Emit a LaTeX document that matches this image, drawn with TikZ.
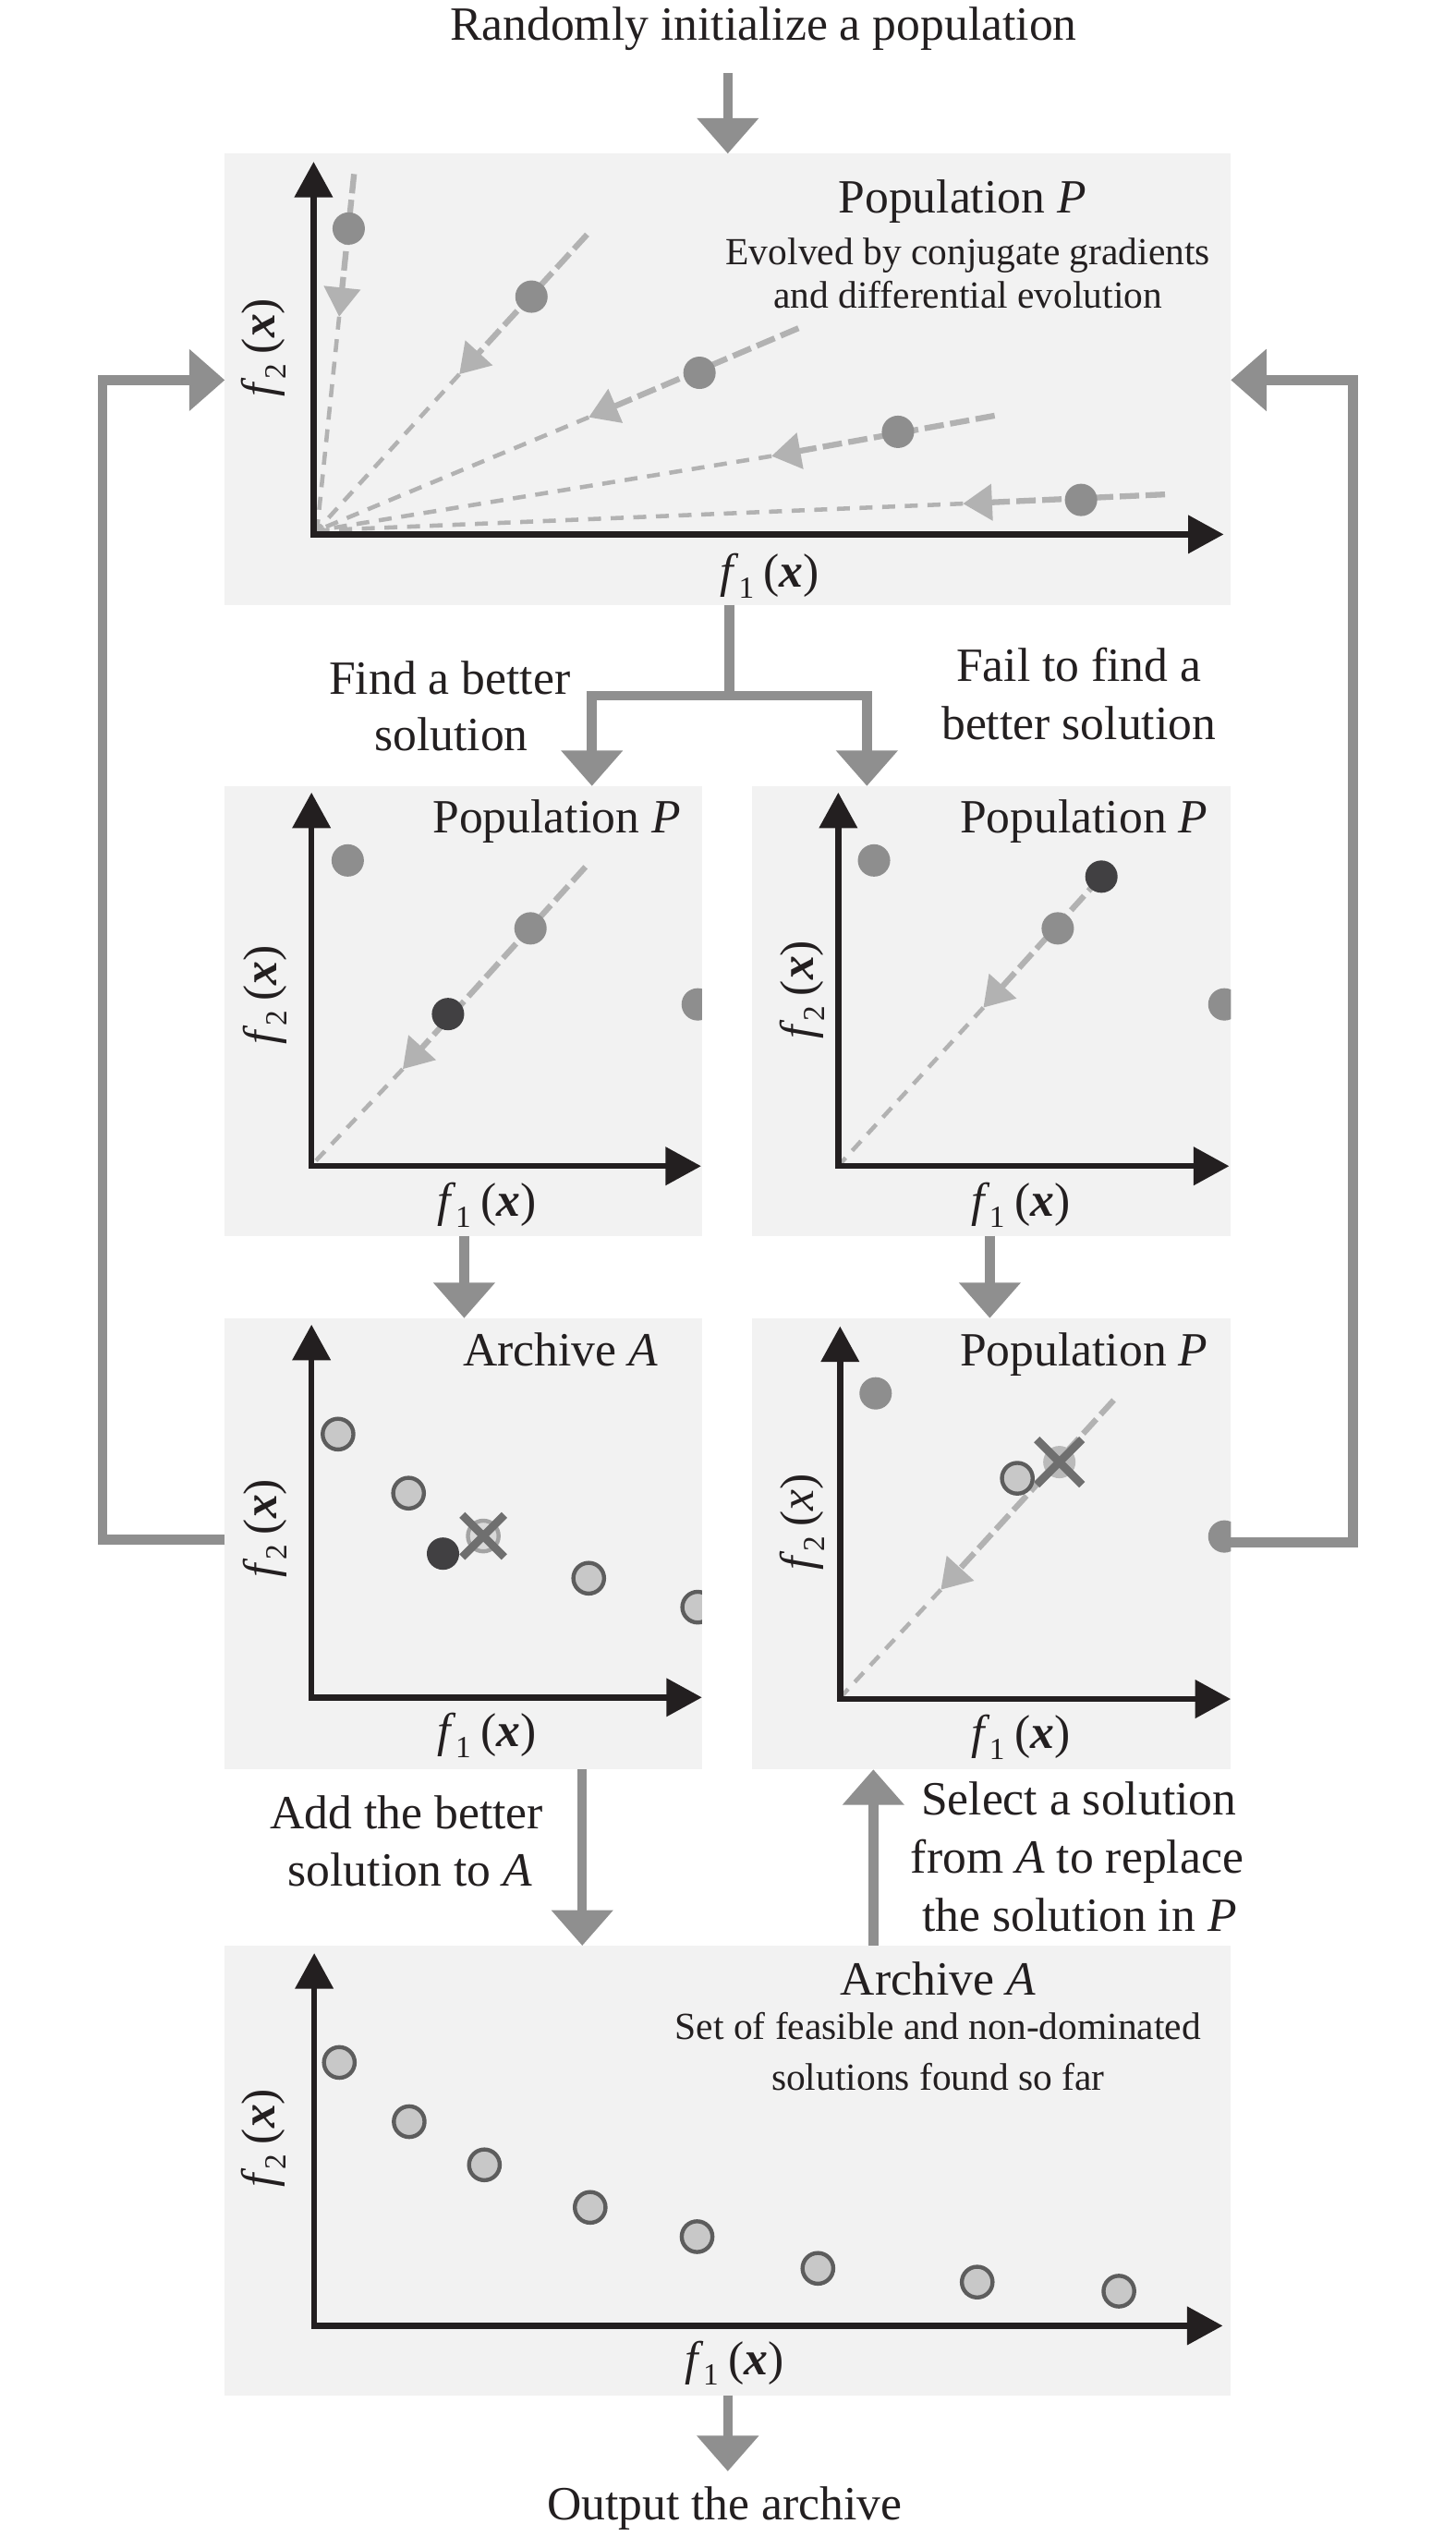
\documentclass[tikz,border=0pt]{standalone}
\usepackage{fontspec}
\setmainfont{Liberation Serif}
\usetikzlibrary{arrows.meta}
\definecolor{panelbg}{HTML}{F2F2F2}
\definecolor{cgray}{HTML}{8F8F8F}
\definecolor{dotgray}{HTML}{8E8E8E}
\definecolor{darkdot}{HTML}{414042}
\definecolor{lgray}{HTML}{B2B2B2}
\definecolor{axisblack}{HTML}{231F20}
\definecolor{afill}{HTML}{C8C8C8}
\definecolor{aline}{HTML}{5D5D5D}
\definecolor{xgray}{HTML}{6F6F6F}
\definecolor{fadefill}{HTML}{D9D9D9}
\definecolor{fadeline}{HTML}{A3A3A3}
\definecolor{crossfill}{HTML}{BABABA}
\newcommand{\mainsize}{\fontsize{29.5}{33}\selectfont}
\newcommand{\subsize}{\fontsize{23.7}{27}\selectfont}
\newcommand{\flab}[2]{\textit{f}\kern-0.3pt\raisebox{-0.22em}{\fontsize{19}{19}\selectfont #1}\kern6pt(#2)}
\newcommand{\bx}{\textbf{\textit{x}}}
\newcommand{\ray}[4]{%
  \draw[raythin] #4 -- #1;
  \draw[raythick] #2 -- #4;
  \fill[gdot] #3 circle (10);
}
\tikzset{
  panel/.style={fill=panelbg, draw=none, anchor=north west, inner sep=0pt, outer sep=0pt},
  conn/.style={draw=cgray, line width=6pt, line join=miter, -{Triangle[length=22pt,width=37pt,fill=cgray]}},
  connline/.style={draw=cgray, line width=6pt},
  axes/.style={draw=axisblack, line width=3.7pt, line join=miter, {Triangle[length=22pt,width=23pt,fill=axisblack]}-{Triangle[length=22pt,width=23pt,fill=axisblack]}},
  raythick/.style={draw=lgray, line width=3.6pt, dash pattern=on 12pt off 4pt, -{Triangle[length=18pt,width=22pt,fill=lgray]}},
  raythin/.style={draw=lgray, line width=2.6pt, dash pattern=on 8pt off 6pt},
  txt/.style={font=\mainsize, inner sep=0pt, text=axisblack},
  subtxt/.style={font=\subsize, inner sep=0pt, text=axisblack},
  gdot/.style={fill=dotgray},
  ddot/.style={fill=darkdot},
  adot/.style={fill=afill, draw=aline, line width=2.5pt},
  xmark/.style={draw=xgray, line width=5pt},
}
\begin{document}
\begin{tikzpicture}[x=1pt,y=-1pt]
\useasboundingbox (0,0) rectangle (900,1568);

% panels
\node[panel, minimum width=622pt, minimum height=279pt] (P0) at (139,95) {};
\node[panel, minimum width=295pt, minimum height=278pt] (P1) at (139,486) {};
\node[panel, minimum width=296pt, minimum height=278pt] (P2) at (465,486) {};
\node[panel, minimum width=295pt, minimum height=279pt] (P3) at (139,815) {};
\node[panel, minimum width=296pt, minimum height=279pt] (P4) at (465,815) {};
\node[panel, minimum width=622pt, minimum height=278pt] (A) at (139,1203) {};

% ---------- top panel contents
\begin{scope}
\clip (P0.north west) rectangle (P0.south east);
\ray{(196,328)}{(218.9,107.6)}{(215.6,141.3)}{(209.7,195.8)}
\ray{(196,328)}{(363,145)}{(328.6,183.4)}{(284,231.4)}
\ray{(196,328)}{(493.7,202.9)}{(432.5,230.5)}{(364,258)}
\ray{(196,328)}{(615,257)}{(555.2,267)}{(477,282)}
\ray{(196,328)}{(720.3,305.7)}{(668.4,309.1)}{(595.4,311.4)}
\end{scope}
\draw[axes] (193.9,100) -- (193.9,330.4) -- (756.6,330.4);
\node[txt, anchor=base] (t0) at (595,131.4) {Population \textit{P}};
\node[subtxt, anchor=base] (s0a) at (598.5,163.4) {Evolved by conjugate gradients};
\node[subtxt, anchor=base] (s0b) at (598.5,190.5) {and differential evolution};
\node[txt, rotate=90] (y0) at (163,215) {\flab{2}{\bx}};
\node[txt] (x0) at (476,356) {\flab{1}{\bx}};

% ---------- middle-left panel
\begin{scope}
\clip (P1.north west) rectangle (P1.south east);
\draw[raythin] (249,661) -- (195,718);
\draw[raythick] (362,536) -- (249,661);
\fill[gdot] (215,532) circle (10);
\fill[gdot] (328,574) circle (10);
\fill[ddot] (277,627) circle (10);
\fill[gdot] (431.4,621) circle (10);
\end{scope}
\draw[axes] (192.6,490) -- (192.6,721) -- (433.5,721);
\node[txt, anchor=base east] (t1) at (421,515) {Population \textit{P}};
\node[txt, rotate=90] (y1) at (164,615) {\flab{2}{\bx}};
\node[txt] (x1) at (301,745) {\flab{1}{\bx}};

% ---------- middle-right panel
\begin{scope}
\clip (P2.north west) rectangle (P2.south east);
\draw[raythin] (608,623) -- (520,719);
\draw[raythick] (681,542) -- (608,623);
\fill[gdot] (540.4,532) circle (10);
\fill[gdot] (654,574) circle (10);
\fill[ddot] (681,542) circle (10);
\fill[gdot] (757,621) circle (10);
\end{scope}
\draw[axes] (518.3,490) -- (518.3,721) -- (760,721);
\node[txt, anchor=base east] (t2) at (747,515) {Population \textit{P}};
\node[txt, rotate=90] (y2) at (496,612) {\flab{2}{\bx}};
\node[txt] (x2) at (631,745) {\flab{1}{\bx}};

% ---------- lower-left panel (archive)
\begin{scope}
\clip (P3.north west) rectangle (P3.south east);
\draw[adot] (209,886.7) circle (9.5);
\draw[adot] (252.6,923.2) circle (9.5);
\fill[ddot] (273.9,960.6) circle (10);
\draw[fill=fadefill, draw=fadeline, line width=2.5pt] (298.8,949.7) circle (9.5);
\draw[xmark] (285.8,936.7) -- (311.8,962.7);
\draw[xmark] (285.8,962.7) -- (311.8,936.7);
\draw[adot] (364,975.8) circle (9.5);
\draw[adot] (431.4,993.7) circle (9.5);
\end{scope}
\draw[axes] (192.6,819) -- (192.6,1049.5) -- (434,1049.5);
\node[txt, anchor=base east] (t3) at (407,844.6) {Archive \textit{A}};
\node[txt, rotate=90] (y3) at (164,945) {\flab{2}{\bx}};
\node[txt] (x3) at (301,1073) {\flab{1}{\bx}};

% ---------- lower-right panel
\begin{scope}
\clip (P4.north west) rectangle (P4.south east);
\draw[raythin] (581.7,982.9) -- (521,1048);
\draw[raythick] (688.6,865.7) -- (581.7,982.9);
\fill[gdot] (541.4,861.5) circle (10);
\fill[crossfill] (655,904) circle (10);
\draw[adot] (629,914) circle (9.5);
\draw[xmark] (641,890) -- (669,918);
\draw[xmark] (641,918) -- (669,890);
\fill[gdot] (757,950) circle (10);
\end{scope}
\draw[axes] (519.4,820) -- (519.4,1050.5) -- (761,1050.5);
\node[txt, anchor=base east] (t4) at (747,844.6) {Population \textit{P}};
\node[txt, rotate=90] (y4) at (496,941) {\flab{2}{\textit{x}}};
\node[txt] (x4) at (631,1074) {\flab{1}{\bx}};

% ---------- bottom archive panel
\draw[adot] (209.8,1275.2) circle (9.5);
\draw[adot] (253,1311.8) circle (9.5);
\draw[adot] (299.5,1338.5) circle (9.5);
\draw[adot] (364.9,1364.8) circle (9.5);
\draw[adot] (431,1382.9) circle (9.5);
\draw[adot] (505.7,1402.5) circle (9.5);
\draw[adot] (604.2,1411) circle (9.5);
\draw[adot] (691.8,1416.6) circle (9.5);
\draw[axes] (194.3,1207.6) -- (194.3,1438) -- (756,1438);
\node[txt, anchor=base] (t5) at (580,1233.8) {Archive \textit{A}};
\node[subtxt, anchor=base] (s5a) at (580,1261) {Set of feasible and non-dominated};
\node[subtxt, anchor=base] (s5b) at (580,1292.4) {solutions found so far};
\node[txt, rotate=90] (y5) at (163,1322) {\flab{2}{\bx}};
\node[txt] (x5) at (454,1461) {\flab{1}{\bx}};

% ---------- free texts
\node[txt, anchor=base] (T) at (472,25) {Randomly initialize a population};
\node[txt, anchor=base] (L1a) at (278,429.5) {Find a better};
\node[txt, anchor=base] (L1b) at (279,464) {solution};
\node[txt, anchor=base] (L2a) at (667,421.5) {Fail to find a};
\node[txt, anchor=base] (L2b) at (667,457) {better solution};
\node[txt, anchor=base] (L3a) at (251.5,1131) {Add the better};
\node[txt, anchor=base] (L3b) at (253.5,1166) {solution to \textit{A}};
\node[txt, anchor=base] (L4a) at (667,1122) {Select a solution};
\node[txt, anchor=base] (L4b) at (666,1158) {from \textit{A} to replace};
\node[txt, anchor=base] (L4c) at (667.5,1194) {the solution in \textit{P}};
\node[txt, anchor=base] (O) at (448,1558) {Output the archive};

% ---------- connectors
\coordinate (a0) at (450,45);
\draw[conn] (a0) -- (a0 |- P0.north);
\coordinate (br) at (451,430);
\draw[connline] (br |- P0.south) -- (br);
\draw[conn] (br) -| (P1.north -| 366,0);
\draw[conn] (br) -| (P2.north -| 536,0);
\draw[conn] (P1.south -| 287,0) -- (P3.north -| 287,0);
\draw[conn] (P2.south -| 612,0) -- (P4.north -| 612,0);
\draw[conn] (P3.south -| 360,0) -- (A.north -| 360,0);
\draw[conn] (A.north -| 540,0) -- (P4.south -| 540,0);
\coordinate (oend) at (450,1528);
\draw[conn] (A.south -| oend) -- (oend);
\draw[conn] (P3.west |- 0,952) -| (63.4,235) -- (P0.west |- 0,235);
\draw[conn] (P4.east |- 0,953.5) -| (836.6,235) -- (P0.east |- 0,235);
\end{tikzpicture}
\end{document}
